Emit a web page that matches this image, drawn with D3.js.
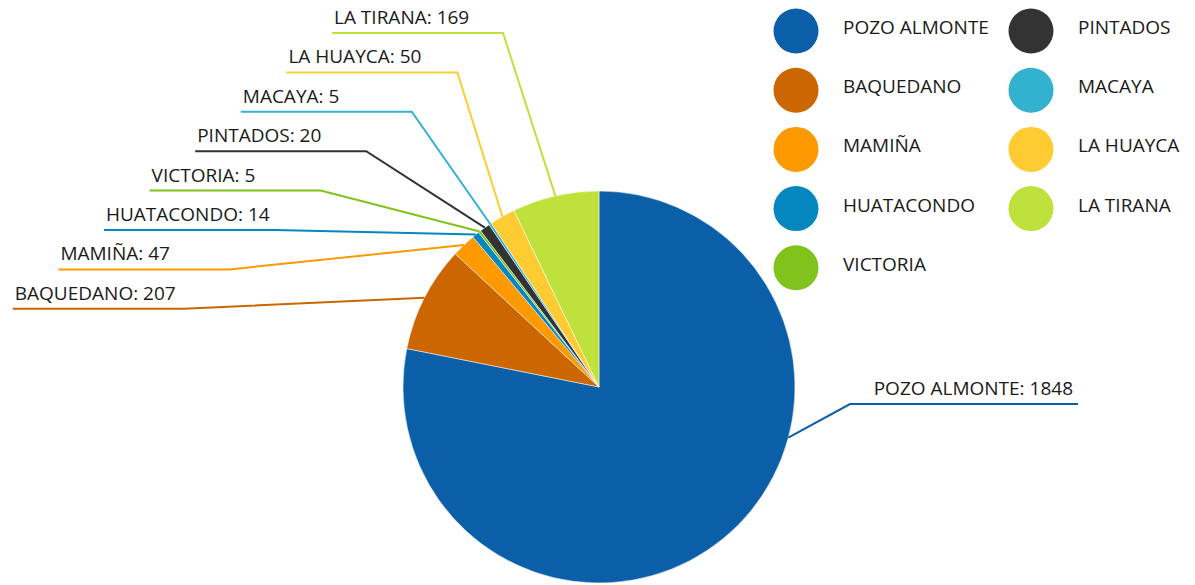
<!DOCTYPE html>
<html lang="es">
<head>
<meta charset="utf-8" />
<title>Pie</title>
<script src="https://d3js.org/d3.v7.js"></script>
<style>
    body, html { margin: 0; background: #fff; }
    text { font-family: "Open Sans", Arial, sans-serif; fill: #1a1a1a; }
</style>
</head>
<body>
<div id="canvas"></div>
<script>
    // datos
    let categories = ["POZO ALMONTE", "BAQUEDANO", "MAMIÑA", "HUATACONDO", "VICTORIA", "PINTADOS", "MACAYA", "LA HUAYCA", "LA TIRANA"]
    let values = [1848, 207, 47, 14, 5, 20, 5, 50, 169]
    let colors = ["#0b5fa8", "#cc6600", "#fe9a00", "#0487be", "#80c31c", "#333333", "#33b2d0", "#ffcb32", "#bfe13b"]

    let width = 1195, height = 585
    let cx = 599, cy = 387, r = 196

    let svg = d3.select("#canvas").append("svg")
        .attr("width", width)
        .attr("height", height)

    let color = d3.scaleOrdinal().domain(categories).range(colors)

    let pie = d3.pie().sort(null).value((d, i) => values[i])
    let arcs = pie(categories)
    let arc = d3.arc().innerRadius(0).outerRadius(r)

    let g = svg.append("g").attr("transform", `translate(${cx},${cy})`)

    g.selectAll("path")
        .data(arcs)
        .enter()
        .append("path")
        .attr("d", arc)
        .attr("fill", d => color(d.data))
        .attr("stroke", "#fff")
        .attr("stroke-width", 0.5)

    // etiquetas con lineas guia
    let fs = 19
    function pointOn(a) { return [cx + r * Math.sin(a), cy - r * Math.cos(a)] }

    arcs.forEach((d, i) => {
        let label = d.data + ": " + values[i]
        let pts, tx, anchor, ty
        if (i === 0) {
            // la etiqueta grande va a la derecha
            let p = pointOn(105 * Math.PI / 180)
            pts = [p, [850, 404], [1078, 404]]
            tx = 1073; ty = 404 - 9; anchor = "end"
        } else {
            let row = arcs.length - 1 - i
            let ly = 33 + row * 39.4
            let ex = 503 - row * 45.6
            let p = pointOn((d.startAngle + d.endAngle) / 2)
            pts = [p, [ex, ly], [ex - 171, ly]]
            tx = ex - 169; ty = ly - 9; anchor = "start"
        }
        svg.append("polyline")
            .attr("points", pts.map(p => p.join(",")).join(" "))
            .attr("fill", "none")
            .attr("stroke", color(d.data))
            .attr("stroke-width", 2)
        svg.append("text")
            .attr("x", tx).attr("y", ty)
            .attr("text-anchor", anchor)
            .style("font-size", fs + "px")
            .text(label)
    })

    // leyenda
    let legend = svg.append("g")
    categories.forEach((c, i) => {
        let col = i < 5 ? 0 : 1
        let row = i < 5 ? i : i - 5
        let x = 796 + col * 235
        let y = 31 + row * 59.2
        legend.append("circle")
            .attr("cx", x).attr("cy", y).attr("r", 22.5)
            .attr("fill", color(c))
        legend.append("text")
            .attr("x", x + 47).attr("y", y + 3)
            .style("font-size", fs + "px")
            .text(c)
    })
</script>
</body>
</html>
